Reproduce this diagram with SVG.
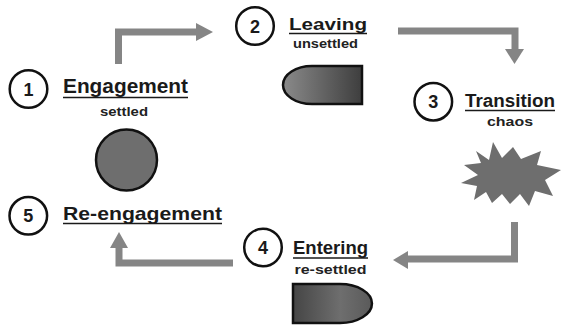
<svg xmlns="http://www.w3.org/2000/svg" width="561" height="327" viewBox="0 0 561 327">
  <style>
    .num circle { fill: #ffffff; stroke: #111111; stroke-width: 2.5; }
    .num text { font-family: "Liberation Sans", Arial, sans-serif; font-weight: bold; font-size: 18px; fill: #1a1a1a; text-anchor: middle; }
    .title { font-family: "Liberation Sans", Arial, sans-serif; font-weight: bold; fill: #1a1a1a; }
    .sub { font-family: "Liberation Sans", Arial, sans-serif; font-weight: bold; font-size: 13px; fill: #222222; }
    .uline { stroke: #1a1a1a; stroke-width: 1.6; }
    .flow { fill: none; stroke: #858585; stroke-width: 7; stroke-linejoin: miter; }
    .head { fill: #858585; }
    .shape { stroke: #111111; stroke-width: 2.5; }
  </style>
  <defs>
    <linearGradient id="gradLeave" x1="0" y1="0" x2="1" y2="0">
      <stop offset="0" stop-color="#8a8a8a"/>
      <stop offset="1" stop-color="#3e3e3e"/>
    </linearGradient>
    <linearGradient id="gradEnter" x1="0" y1="0" x2="1" y2="0">
      <stop offset="0" stop-color="#454545"/>
      <stop offset="0.6" stop-color="#6e6e6e"/>
      <stop offset="1" stop-color="#5a5a5a"/>
    </linearGradient>
  </defs>

  <!-- connectors -->
  <g id="connectors">
    <path class="flow" d="M118.5,64 V32 H197"/>
    <polygon class="head" points="196,23 213,32 196,41"/>

    <path class="flow" d="M398,31 H515 V50"/>
    <polygon class="head" points="505,49 524,49 514.5,64"/>

    <path class="flow" d="M514.5,222 V259 H407"/>
    <polygon class="head" points="408,251 393,260 408,269"/>

    <path class="flow" d="M233,263 H119 V247"/>
    <polygon class="head" points="110,248 119,232 128,248"/>
  </g>

  <!-- stage 1 -->
  <g id="engagement">
    <g class="num"><circle cx="28.5" cy="89" r="18.8"/><text x="28.5" y="95.5">1</text></g>
    <text class="title" x="63" y="93" font-size="19.5" textLength="125" lengthAdjust="spacingAndGlyphs">Engagement</text>
    <line class="uline" x1="63" y1="97.5" x2="188" y2="97.5"/>
    <text class="sub" x="100" y="116" textLength="48" lengthAdjust="spacingAndGlyphs">settled</text>
    <circle class="shape" cx="126.5" cy="160" r="30.5" fill="#6e6e6e"/>
  </g>

  <!-- stage 2 -->
  <g id="leaving">
    <g class="num"><circle cx="255" cy="26" r="18.8"/><text x="255" y="32.5">2</text></g>
    <text class="title" x="289" y="29.5" font-size="17" textLength="78" lengthAdjust="spacingAndGlyphs">Leaving</text>
    <line class="uline" x1="289" y1="33.5" x2="367" y2="33.5"/>
    <text class="sub" x="293" y="48" textLength="65" lengthAdjust="spacingAndGlyphs">unsettled</text>
    <path class="shape" d="M362,66 H312 A29,19 0 0 0 312,104 H362 Z" fill="url(#gradLeave)"/>
  </g>

  <!-- stage 3 -->
  <g id="transition">
    <g class="num"><circle cx="433.3" cy="101.7" r="18.8"/><text x="433.3" y="108.2">3</text></g>
    <text class="title" x="465" y="106.5" font-size="18" textLength="90" lengthAdjust="spacingAndGlyphs">Transition</text>
    <line class="uline" x1="465" y1="110.5" x2="555" y2="110.5"/>
    <text class="sub" x="487" y="126" textLength="46" lengthAdjust="spacingAndGlyphs">chaos</text>
    <polygon fill="#6e6e6e" points="476,151 489,160 493,142 502,158 513,147 521,159 541,151 537,165 561,170 545,180 553,196 535,191 529,206 520,194 510,204 502,194 492,203 486,192 474,200 477,186 461,183 478,175 464,165 481,163"/>
  </g>

  <!-- stage 4 -->
  <g id="entering">
    <g class="num"><circle cx="263" cy="247.5" r="18.8"/><text x="263" y="254">4</text></g>
    <text class="title" x="293" y="254" font-size="17.5" textLength="75" lengthAdjust="spacingAndGlyphs">Entering</text>
    <line class="uline" x1="293" y1="258" x2="368" y2="258"/>
    <text class="sub" x="294.5" y="273.5" textLength="72" lengthAdjust="spacingAndGlyphs">re-settled</text>
    <path class="shape" d="M293,284 H340 A32,19.5 0 0 1 340,323 H293 Z" fill="url(#gradEnter)"/>
  </g>

  <!-- stage 5 -->
  <g id="reengagement">
    <g class="num"><circle cx="28.3" cy="215.8" r="18.8"/><text x="28.3" y="222.3">5</text></g>
    <text class="title" x="63" y="219.5" font-size="18.5" textLength="159" lengthAdjust="spacingAndGlyphs">Re-engagement</text>
    <line class="uline" x1="63" y1="223.5" x2="222" y2="223.5"/>
  </g>
</svg>
